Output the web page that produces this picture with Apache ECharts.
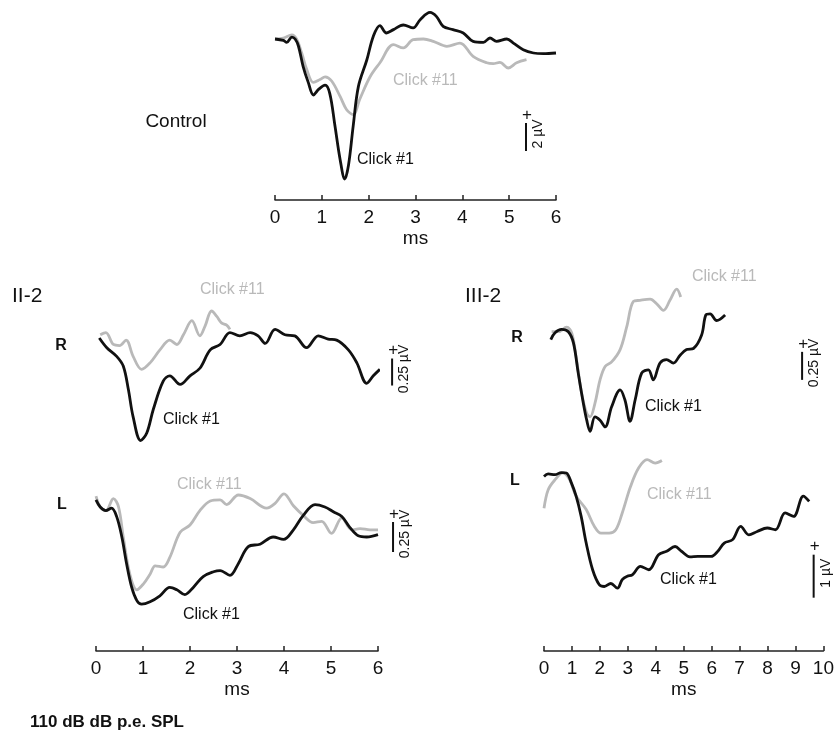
<!DOCTYPE html>
<html><head><meta charset="utf-8">
<script src="https://cdn.jsdelivr.net/npm/echarts@6/dist/echarts.min.js"></script>
<style>html,body{margin:0;padding:0;background:#fff}#c{width:837px;height:731px}</style>
</head><body><div id="c"></div>
<script>
// ---- tick labels (ms) ----
const controlTicks = [0,1,2,3,4,5,6];
const ii2Ticks = [0,1,2,3,4,5,6];
const iii2Ticks = [0,1,2,3,4,5,6,7,8,9,10];

// ---- Control (µV vs ms) ----
const controlClick1 = [[0,0],[0.18,-0.1],[0.25,-0.24],[0.36,0.14],[0.43,0],[0.5,-0.5],[0.6,-1.95],[0.71,-3.1],[0.82,-4.0],[0.93,-3.6],[1.07,-3.3],[1.17,-3.9],[1.28,-6.2],[1.39,-8.6],[1.49,-10],[1.57,-9.0],[1.67,-6.2],[1.78,-3.4],[1.96,-1.5],[2.1,0.2],[2.24,0.95],[2.38,0.43],[2.53,0.67],[2.74,1.0],[2.95,0.79],[3.1,1.38],[3.31,1.9],[3.45,1.6],[3.59,0.9],[3.8,0.67],[4.02,0.43],[4.23,-0.17],[4.45,-0.24],[4.59,0.07],[4.73,-0.17],[4.95,0],[5.09,-0.29],[5.3,-0.76],[5.52,-1.0],[5.73,-1.05],[6,-1.0]];
const controlClick11 = [[0,0],[0.18,0.07],[0.36,0.3],[0.46,0],[0.57,-1.0],[0.68,-2.2],[0.82,-3.1],[0.96,-2.9],[1.07,-2.7],[1.21,-3.0],[1.39,-4.1],[1.53,-5.05],[1.67,-5.4],[1.81,-4.3],[2.03,-2.7],[2.24,-1.7],[2.53,-0.4],[2.74,-0.64],[2.95,-0.05],[3.17,0],[3.38,-0.17],[3.67,-0.52],[3.95,-0.29],[4.23,-1.24],[4.52,-1.7],[4.66,-1.76],[4.8,-1.67],[4.98,-2.07],[5.16,-1.7],[5.37,-1.48]];

// ---- II-2 R ----
const ii2RClick1 = [[0.07,0],[0.23,-0.09],[0.44,-0.17],[0.58,-0.26],[0.69,-0.48],[0.79,-0.73],[0.95,-0.95],[1.08,-0.88],[1.22,-0.66],[1.43,-0.40],[1.57,-0.35],[1.79,-0.43],[2.0,-0.35],[2.21,-0.28],[2.43,-0.11],[2.64,-0.06],[2.85,0.05],[3.06,0.02],[3.28,0.05],[3.45,0.02],[3.6,-0.05],[3.81,0.08],[4.02,0.03],[4.23,0.02],[4.48,-0.09],[4.73,0.02],[4.94,-0.01],[5.12,-0.02],[5.37,-0.11],[5.55,-0.23],[5.76,-0.42],[5.9,-0.35],[6.04,-0.29]];
const ii2RClick11 = [[0.09,0.03],[0.21,0.05],[0.37,-0.06],[0.5,-0.07],[0.64,-0.02],[0.79,-0.17],[0.97,-0.29],[1.15,-0.23],[1.36,-0.11],[1.57,-0.02],[1.72,-0.06],[1.86,0.03],[2.04,0.16],[2.21,0.02],[2.32,0.11],[2.46,0.25],[2.57,0.2],[2.67,0.14],[2.78,0.12],[2.85,0.08]];

// ---- II-2 L ----
const ii2LClick1 = [[0,0.06],[0.09,0],[0.21,-0.03],[0.33,-0.01],[0.44,-0.08],[0.55,-0.25],[0.65,-0.47],[0.76,-0.67],[0.87,-0.78],[0.97,-0.81],[1.15,-0.79],[1.36,-0.74],[1.57,-0.67],[1.72,-0.69],[1.89,-0.73],[2.07,-0.67],[2.28,-0.58],[2.5,-0.54],[2.64,-0.53],[2.85,-0.57],[3.03,-0.47],[3.24,-0.33],[3.49,-0.31],[3.77,-0.25],[3.99,-0.27],[4.2,-0.19],[4.41,-0.07],[4.66,0.02],[4.87,0],[5.05,-0.04],[5.23,-0.08],[5.4,-0.17],[5.58,-0.24],[5.76,-0.25],[6.0,-0.23]];
const ii2LClick11 = [[0,0.09],[0.09,0],[0.21,-0.03],[0.37,0.07],[0.48,0],[0.58,-0.25],[0.72,-0.56],[0.87,-0.69],[1.01,-0.64],[1.15,-0.56],[1.26,-0.49],[1.43,-0.5],[1.57,-0.42],[1.79,-0.21],[2.0,-0.15],[2.21,-0.03],[2.43,0.05],[2.64,0.06],[2.78,0.02],[3.03,0.1],[3.28,0.07],[3.63,-0.01],[3.81,0.03],[4.0,0.11],[4.2,0.01],[4.41,-0.07],[4.62,-0.13],[4.8,-0.12],[5.01,-0.22],[5.23,-0.09],[5.44,-0.19],[5.62,-0.18],[5.83,-0.19],[6.0,-0.19]];

// ---- III-2 R ----
const iii2RClick1 = [[0.24,-0.07],[0.39,-0.01],[0.62,0.02],[0.86,0],[1.04,-0.1],[1.21,-0.37],[1.37,-0.61],[1.51,-0.79],[1.63,-0.89],[1.8,-0.76],[1.98,-0.79],[2.16,-0.85],[2.39,-0.67],[2.69,-0.52],[2.86,-0.61],[3.04,-0.8],[3.22,-0.61],[3.45,-0.37],[3.69,-0.34],[3.86,-0.43],[4.1,-0.28],[4.33,-0.25],[4.57,-0.28],[4.81,-0.21],[5.04,-0.16],[5.28,-0.15],[5.57,-0.03],[5.72,0.15],[5.87,0.16],[6.1,0.1],[6.4,0.15]];
const iii2RClick11 = [[0.27,0],[0.51,0],[0.8,0.04],[0.98,-0.01],[1.15,-0.25],[1.33,-0.55],[1.51,-0.73],[1.63,-0.76],[1.8,-0.64],[1.98,-0.43],[2.16,-0.31],[2.39,-0.27],[2.69,-0.16],[2.92,0.04],[3.16,0.27],[3.39,0.28],[3.75,0.29],[3.98,0.25],[4.22,0.19],[4.45,0.28],[4.69,0.38],[4.83,0.31]];

// ---- III-2 L ----
const iii2LClick1 = [[0,-0.04],[0.15,0.02],[0.39,0],[0.62,0.05],[0.8,0.04],[0.98,-0.19],[1.15,-0.5],[1.33,-0.97],[1.51,-1.59],[1.74,-2.21],[1.98,-2.56],[2.16,-2.6],[2.39,-2.53],[2.63,-2.64],[2.8,-2.44],[2.98,-2.36],[3.16,-2.33],[3.45,-2.13],[3.75,-2.21],[4.1,-1.86],[4.39,-1.78],[4.69,-1.67],[4.92,-1.78],[5.22,-1.91],[5.51,-1.9],[5.98,-1.9],[6.22,-1.78],[6.45,-1.59],[6.75,-1.51],[7.04,-1.2],[7.33,-1.4],[7.63,-1.32],[7.99,-1.24],[8.28,-1.28],[8.63,-0.89],[8.93,-0.97],[9.28,-0.5],[9.49,-0.62]];
const iii2LClick11 = [[0,-0.78],[0.15,-0.35],[0.39,-0.12],[0.68,0.05],[0.92,-0.12],[1.15,-0.5],[1.51,-0.81],[1.8,-1.2],[2.04,-1.36],[2.33,-1.36],[2.57,-1.28],[2.8,-0.89],[3.1,-0.27],[3.39,0.16],[3.69,0.35],[3.98,0.27],[4.22,0.33]];

// ---- scale bars: [ms position, top µV, bottom µV], label ----
const scaleBarPos = [[5.36,-6.0,-8.0],[6.3,-0.19,-0.44],[6.32,-0.125,-0.375],[9.12,-0.18,-0.43],[9.65,-1.86,-2.86]];
const scaleBarLabels = ['2 µV','0.25 µV','0.25 µV','0.25 µV','1 µV'];

const FONT = '"Liberation Sans", Arial, Helvetica, sans-serif';
const BLACK = '#111111', GRAY = '#b9b9b9';

const grids = [
  {left:275, top:4, width:281, height:196},
  {left:96, top:305.6, width:282, height:140.4},
  {left:96, top:471, width:282, height:180},
  {left:544, top:275.7, width:283, height:168},
  {left:544, top:448.9, width:283, height:202.1}
];
const yRanges = [[-11.5,2.5],[-1.0,0.3],[-1.2,0.3],[-1.0,0.5],[-4.1,0.6]];
const xTicksPer = [controlTicks, ii2Ticks, ii2Ticks, iii2Ticks, iii2Ticks];
const showX = [true,false,true,false,true];
const click1Data = [controlClick1, ii2RClick1, ii2LClick1, iii2RClick1, iii2LClick1];
const click11Data = [controlClick11, ii2RClick11, ii2LClick11, iii2RClick11, iii2LClick11];

function xAxisDef(i){
  const t = xTicksPer[i];
  return {type:'value', gridIndex:i, min:t[0], max:t[t.length-1], interval:1, show:showX[i],
    axisLine:{show:true, onZero:false, lineStyle:{color:'#222', width:1.5}},
    axisTick:{show:true, inside:true, length:5, lineStyle:{color:'#222', width:1.5}},
    axisLabel:{show:true, margin:8, fontSize:19, color:'#111', fontFamily:FONT},
    splitLine:{show:false},
    name: showX[i] ? 'ms' : '', nameLocation:'middle', nameGap:29,
    nameTextStyle:{fontSize:19, color:'#111', fontFamily:FONT}};
}
function yAxisDef(i){
  return {type:'value', gridIndex:i, min:yRanges[i][0], max:yRanges[i][1], show:false, splitLine:{show:false}};
}
function trace(i, data, color, z){
  return {type:'line', xAxisIndex:i, yAxisIndex:i, data, symbol:'none', showSymbol:false,
    smooth:0.35, lineStyle:{color, width:2.8}, z, silent:true, clip:false};
}

const series = [];
for (let i=0;i<5;i++){
  series.push(trace(i, click11Data[i], GRAY, 2));
  series.push(trace(i, click1Data[i], BLACK, 3));
}

const chart = echarts.init(document.getElementById('c'), null, {renderer:'canvas'});
chart.setOption({
  animation:false,
  backgroundColor:'#fff',
  grid: grids,
  xAxis: grids.map((g,i)=>xAxisDef(i)),
  yAxis: grids.map((g,i)=>yAxisDef(i)),
  series
});

function txt(x,y,text,opt){
  return {type:'text', x, y, silent:true, style:Object.assign({text, fill:BLACK, font:'16px '+FONT, textAlign:'left', textVerticalAlign:'middle'}, opt||{})};
}
const g = [
  txt(176,122,'Control',{font:'19px '+FONT, textAlign:'center'}),
  txt(12,296,'II-2',{font:'21px '+FONT}),
  txt(465,296,'III-2',{font:'21px '+FONT}),
  txt(61,346,'R',{font:'bold 16px '+FONT, textAlign:'center'}),
  txt(62,505,'L',{font:'bold 16px '+FONT, textAlign:'center'}),
  txt(517,338,'R',{font:'bold 16px '+FONT, textAlign:'center'}),
  txt(515,481,'L',{font:'bold 16px '+FONT, textAlign:'center'}),
  txt(393,81,'Click #11',{fill:GRAY}),
  txt(357,160,'Click #1'),
  txt(200,290,'Click #11',{fill:GRAY}),
  txt(163,420,'Click #1'),
  txt(177,485,'Click #11',{fill:GRAY}),
  txt(183,615,'Click #1'),
  txt(692,277,'Click #11',{fill:GRAY}),
  txt(645,407,'Click #1'),
  txt(647,495,'Click #11',{fill:GRAY}),
  txt(660,580,'Click #1'),
  txt(30,722,'110 dB dB p.e. SPL',{font:'bold 17px '+FONT})
];
for (let i=0;i<5;i++){
  const b = scaleBarPos[i];
  const p0 = chart.convertToPixel({gridIndex:i}, [b[0], b[1]]);
  const p1 = chart.convertToPixel({gridIndex:i}, [b[0], b[2]]);
  g.push({type:'line', silent:true, shape:{x1:p0[0], y1:p0[1], x2:p1[0], y2:p1[1]},
    style:{stroke:BLACK, lineWidth:2}});
  g.push(txt(p0[0]+1, p0[1]-8, '+', {font:'17px '+FONT, textAlign:'center'}));
  g.push({type:'text', x:p0[0]+12, y:(p0[1]+p1[1])/2-3, rotation:Math.PI/2, silent:true,
    style:{text:scaleBarLabels[i], fill:BLACK, font:'14px '+FONT, textAlign:'center', textVerticalAlign:'middle'}});
}
chart.setOption({graphic:g});
</script>
</body></html>
